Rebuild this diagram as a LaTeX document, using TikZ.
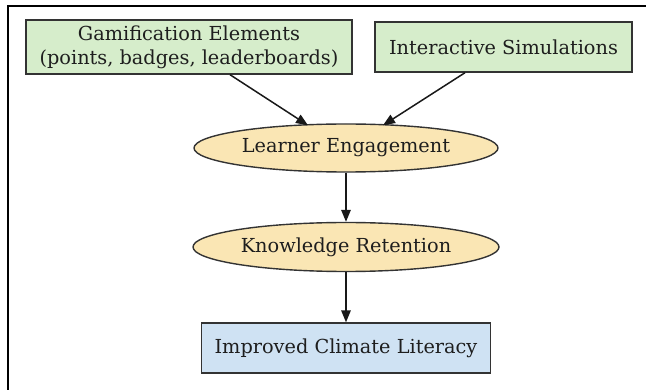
\documentclass[tikz,border=0pt]{standalone}
\usepackage{fontspec}
\setmainfont{DejaVu Serif}
\usetikzlibrary{shapes.geometric,arrows.meta,calc}
\definecolor{boxgreen}{HTML}{D6EDCB}
\definecolor{ellfill}{HTML}{FAE6B4}
\definecolor{boxblue}{HTML}{CFE2F3}
\definecolor{edgecol}{HTML}{333333}
\definecolor{txtcol}{HTML}{1E1E1E}
\begin{document}
\begin{tikzpicture}[x=1pt,y=-1pt,
  rbox/.style={draw=edgecol,line width=1.4pt,rectangle,inner sep=0pt,align=center,text=txtcol,font=\fontsize{19.3}{24}\selectfont},
  ell/.style={draw=edgecol,line width=1.4pt,ellipse,inner sep=0pt,text=txtcol,font=\fontsize{19.3}{24}\selectfont},
  conn/.style={draw=black!90,line width=1.5pt,-{Triangle[length=12pt,width=9.5pt]}}]
\useasboundingbox (0,0) rectangle (646,390);
\fill[white] (0,0) rectangle (646,390);
\draw[line width=1.5pt] (646,6) -- (8,6) -- (8,390);
\node[rbox,fill=boxgreen,minimum width=326pt,minimum height=54pt] (gam) at (189,47) {Gamification Elements\\(points, badges, leaderboards)};
\node[rbox,fill=boxgreen,minimum width=257pt,minimum height=50pt] (sim) at (503.5,47) {Interactive Simulations};
\node[ell,fill=ellfill,minimum width=304pt,minimum height=48pt] (eng) at (346,148) {Learner Engagement};
\node[ell,fill=ellfill,minimum width=306pt,minimum height=49pt] (ret) at (346,247) {Knowledge Retention};
\node[rbox,fill=boxblue,minimum width=289pt,minimum height=50pt] (lit) at (346,348) {Improved Climate Literacy};
\coordinate (gs) at (230,0);
\coordinate (ge) at (308,0);
\coordinate (ss) at (465,0);
\coordinate (se) at (383,0);
\draw[conn] (gam.south -| gs) -- ($(eng.north -| ge)+(0,2)$);
\draw[conn] (sim.south -| ss) -- ($(eng.north -| se)+(0,2)$);
\draw[conn] (eng) -- (ret);
\draw[conn] (ret) -- (lit);
\end{tikzpicture}
\end{document}
